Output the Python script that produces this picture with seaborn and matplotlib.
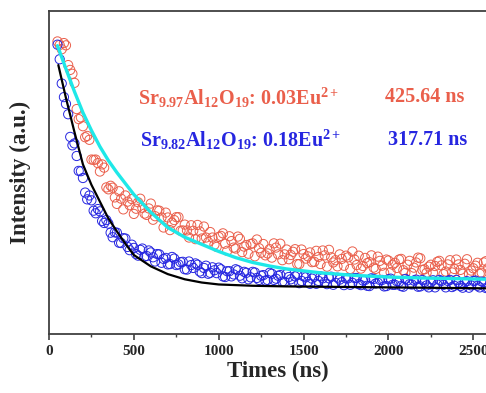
import matplotlib
matplotlib.use("Agg")
import matplotlib.pyplot as plt
import seaborn as sns
import pandas as pd
from matplotlib.ticker import MultipleLocator

# ---------------- data ----------------
times = [50, 75, 100, 125, 150, 175, 200, 225, 250, 275, 300, 325, 350, 375, 400, 425, 450, 475,
         500, 525, 550, 575, 600, 625, 650, 675, 700, 725, 750, 775, 800, 825, 850, 875, 900, 925,
         950, 975, 1000, 1025, 1050, 1075, 1100, 1125, 1150, 1175, 1200, 1225, 1250, 1275, 1300,
         1325, 1350, 1375, 1400, 1425, 1450, 1475, 1500, 1525, 1550, 1575, 1600, 1625, 1650, 1675,
         1700, 1725, 1750, 1775, 1800, 1825, 1850, 1875, 1900, 1925, 1950, 1975, 2000, 2025, 2050,
         2075, 2100, 2125, 2150, 2175, 2200, 2225, 2250, 2275, 2300, 2325, 2350, 2375, 2400, 2425,
         2450, 2475, 2500, 2525, 2550, 2575, 2600]

red_int = [0.905, 0.881, 0.893, 0.817, 0.777, 0.665, 0.643, 0.613, 0.540, 0.540, 0.503, 0.515,
           0.448, 0.453, 0.403, 0.419, 0.429, 0.399, 0.372, 0.408, 0.391, 0.369, 0.404, 0.365,
           0.382, 0.330, 0.361, 0.345, 0.362, 0.320, 0.339, 0.299, 0.320, 0.338, 0.296, 0.299,
           0.316, 0.277, 0.301, 0.312, 0.258, 0.288, 0.265, 0.295, 0.271, 0.249, 0.281, 0.293,
           0.252, 0.244, 0.263, 0.281, 0.247, 0.229, 0.262, 0.245, 0.263, 0.217, 0.248, 0.241,
           0.223, 0.258, 0.217, 0.244, 0.261, 0.222, 0.210, 0.233, 0.243, 0.202, 0.231, 0.243,
           0.211, 0.220, 0.244, 0.202, 0.227, 0.190, 0.228, 0.215, 0.205, 0.233, 0.190, 0.227,
           0.206, 0.237, 0.199, 0.190, 0.215, 0.211, 0.227, 0.186, 0.216, 0.191, 0.231, 0.199,
           0.218, 0.186, 0.204, 0.221, 0.190, 0.226, 0.194]

blue_int = [0.895, 0.775, 0.712, 0.610, 0.590, 0.505, 0.483, 0.417, 0.414, 0.374, 0.380, 0.344,
            0.342, 0.300, 0.314, 0.282, 0.296, 0.260, 0.267, 0.243, 0.265, 0.242, 0.253, 0.225,
            0.247, 0.233, 0.216, 0.239, 0.214, 0.223, 0.201, 0.225, 0.205, 0.215, 0.189, 0.212,
            0.190, 0.198, 0.206, 0.179, 0.195, 0.179, 0.201, 0.181, 0.193, 0.170, 0.193, 0.174,
            0.181, 0.166, 0.190, 0.168, 0.181, 0.163, 0.186, 0.170, 0.179, 0.158, 0.179, 0.162,
            0.172, 0.156, 0.179, 0.161, 0.173, 0.153, 0.175, 0.161, 0.173, 0.153, 0.174, 0.155,
            0.166, 0.150, 0.173, 0.157, 0.168, 0.148, 0.170, 0.153, 0.164, 0.149, 0.171, 0.155,
            0.166, 0.147, 0.168, 0.151, 0.161, 0.145, 0.168, 0.153, 0.165, 0.146, 0.168, 0.149,
            0.162, 0.144, 0.165, 0.150, 0.163, 0.143, 0.159]

# second (interleaved) set of recorded points
times_b = [63, 88, 113, 138, 163, 188, 213, 238, 263, 288, 313, 338,
           363, 388, 413, 438, 463, 488, 513, 538, 563, 588, 613, 638,
           663, 688, 713, 738, 763, 788, 813, 838, 863, 888, 913, 938,
           963, 988, 1013, 1038, 1063, 1088, 1113, 1138, 1163, 1188, 1213, 1238,
           1263, 1288, 1313, 1338, 1363, 1388, 1413, 1438, 1463, 1488, 1513, 1538,
           1563, 1588, 1613, 1638, 1663, 1688, 1713, 1738, 1763, 1788, 1813, 1838,
           1863, 1888, 1913, 1938, 1963, 1988, 2013, 2038, 2063, 2088, 2113, 2138,
           2163, 2188, 2213, 2238, 2263, 2288, 2313, 2338, 2363, 2388, 2413, 2438,
           2463, 2488, 2513, 2538, 2563, 2588]

red_int_b = [0.894, 0.900, 0.832, 0.805, 0.696, 0.670, 0.609, 0.601, 0.539, 0.529, 0.525, 0.454,
             0.459, 0.423, 0.442, 0.386, 0.410, 0.418, 0.388, 0.419, 0.373, 0.389, 0.354, 0.383,
             0.361, 0.376, 0.322, 0.353, 0.362, 0.321, 0.321, 0.337, 0.294, 0.318, 0.333, 0.285,
             0.299, 0.270, 0.304, 0.280, 0.303, 0.268, 0.302, 0.254, 0.276, 0.279, 0.241, 0.266,
             0.279, 0.250, 0.237, 0.268, 0.280, 0.247, 0.232, 0.255, 0.217, 0.262, 0.234, 0.253,
             0.224, 0.239, 0.259, 0.209, 0.238, 0.229, 0.247, 0.212, 0.238, 0.256, 0.214, 0.203,
             0.236, 0.223, 0.206, 0.240, 0.212, 0.231, 0.192, 0.221, 0.231, 0.198, 0.215, 0.189,
             0.222, 0.235, 0.201, 0.209, 0.190, 0.224, 0.213, 0.194, 0.229, 0.202, 0.216, 0.187,
             0.232, 0.197, 0.212, 0.187, 0.222, 0.205]

blue_int_b = [0.850, 0.733, 0.680, 0.584, 0.551, 0.504, 0.438, 0.429, 0.382, 0.387, 0.350, 0.353,
              0.314, 0.315, 0.283, 0.297, 0.270, 0.277, 0.248, 0.261, 0.240, 0.259, 0.238, 0.248,
              0.221, 0.236, 0.217, 0.234, 0.216, 0.224, 0.200, 0.214, 0.219, 0.194, 0.205, 0.187,
              0.207, 0.189, 0.201, 0.177, 0.195, 0.185, 0.198, 0.173, 0.190, 0.176, 0.191, 0.168,
              0.183, 0.168, 0.187, 0.172, 0.183, 0.162, 0.177, 0.163, 0.183, 0.165, 0.176, 0.156,
              0.178, 0.165, 0.173, 0.155, 0.178, 0.159, 0.169, 0.152, 0.173, 0.159, 0.174, 0.152,
              0.168, 0.149, 0.171, 0.159, 0.168, 0.149, 0.172, 0.153, 0.162, 0.147, 0.167, 0.154,
              0.169, 0.148, 0.162, 0.145, 0.167, 0.154, 0.165, 0.145, 0.168, 0.150, 0.160, 0.144,
              0.164, 0.151, 0.166, 0.145, 0.161, 0.143]

fit_red_t = [50, 100, 150, 200, 250, 300, 350, 400, 450, 500, 600, 700, 800, 900, 1000, 1100,
             1200, 1300, 1400, 1600, 1800, 2000, 2200, 2400, 2600]
fit_red_y = [0.892, 0.820, 0.750, 0.685, 0.630, 0.580, 0.537, 0.500, 0.466, 0.432, 0.377, 0.330,
             0.300, 0.278, 0.256, 0.237, 0.222, 0.211, 0.202, 0.190, 0.182, 0.177, 0.174, 0.172,
             0.170]

fit_blue_t = [55, 100, 150, 200, 250, 300, 350, 400, 450, 500, 600, 700, 800, 900, 1000, 1200,
              1400, 1600, 2000, 2600]
fit_blue_y = [0.832, 0.730, 0.625, 0.525, 0.462, 0.410, 0.358, 0.318, 0.280, 0.245, 0.210, 0.186,
              0.170, 0.160, 0.154, 0.150, 0.148, 0.147, 0.145, 0.142]

x_ticks = [0, 500, 1000, 1500, 2000, 2500]

red_label = r"Sr$_{\mathbf{9.97}}$Al$_{\mathbf{12}}$O$_{\mathbf{19}}$: 0.03Eu$^{\mathbf{2+}}$"
blue_label = r"Sr$_{\mathbf{9.82}}$Al$_{\mathbf{12}}$O$_{\mathbf{19}}$: 0.18Eu$^{\mathbf{2+}}$"
red_tau = "425.64 ns"
blue_tau = "317.71 ns"

RED = "#ea5f4b"
BLUE = "#2626e0"
CYAN = "#1ee8e8"

# ---------------- figure ----------------
sns.set_theme(style="white")
plt.rcParams["font.family"] = ["Liberation Serif", "DejaVu Serif"]
plt.rcParams["mathtext.fontset"] = "custom"
plt.rcParams["mathtext.rm"] = "Liberation Serif:bold"
plt.rcParams["mathtext.bf"] = "Liberation Serif:bold"
plt.rcParams["mathtext.it"] = "Liberation Serif:bold"

W, H = 486, 393
fig = plt.figure(figsize=(W / 100, H / 100), dpi=100)
xmax = 2700
px_per_ns = 84.85 / 500
left_px, bottom_px, top_px = 49, 334.3, 10.7
ax = fig.add_axes([left_px / W, (H - bottom_px) / H,
                   xmax * px_per_ns / W, (bottom_px - top_px) / H])

df_red = pd.DataFrame({"t": times + times_b, "I": red_int + red_int_b})
df_blue = pd.DataFrame({"t": times + times_b, "I": blue_int + blue_int_b})
df_fr = pd.DataFrame({"t": fit_red_t, "I": fit_red_y})
df_fb = pd.DataFrame({"t": fit_blue_t, "I": fit_blue_y})

sns.scatterplot(data=df_red, x="t", y="I", ax=ax, marker="o", s=44,
                facecolor="none", edgecolor=RED, linewidth=0.7, zorder=2)
sns.scatterplot(data=df_blue, x="t", y="I", ax=ax, marker="o", s=44,
                facecolor="none", edgecolor=BLUE, linewidth=0.7, zorder=3)
sns.lineplot(data=df_fr, x="t", y="I", ax=ax, color=CYAN, linewidth=2.4, zorder=4)
sns.lineplot(data=df_fb, x="t", y="I", ax=ax, color="black", linewidth=1.6, zorder=5)

ax.set_xlim(0, xmax)
ax.set_ylim(0, 1)
ax.set_xticks(x_ticks)
ax.set_xticklabels([str(v) for v in x_ticks], fontsize=11, fontweight="bold")
ax.xaxis.set_minor_locator(MultipleLocator(250))
ax.set_yticks([])
ax.tick_params(axis="x", which="major", direction="out", length=4, width=1.2,
               color="#404040", bottom=True, pad=4)
ax.tick_params(axis="x", which="minor", direction="out", length=2.5, width=1.0,
               color="#404040", bottom=True)
for sp in ax.spines.values():
    sp.set_color("#404040")
    sp.set_linewidth(1.3)

ax.set_xlabel("Times (ns)", fontsize=16.5, fontweight="bold", labelpad=2)
ax.set_ylabel("")
fig.text(20 / W, 1 - 172 / H, "Intensity (a.u.)", rotation=90, fontsize=16.5,
         fontweight="bold", ha="center", va="center")

fig.text(138 / W, 1 - 98 / H, red_label, color=RED, fontsize=14.5, fontweight="bold",
         ha="left", va="center")
fig.text(385 / W, 1 - 97 / H, red_tau, color=RED, fontsize=14.5, fontweight="bold",
         ha="left", va="center")
fig.text(140 / W, 1 - 140 / H, blue_label, color=BLUE, fontsize=14.5, fontweight="bold",
         ha="left", va="center")
fig.text(388 / W, 1 - 140 / H, blue_tau, color=BLUE, fontsize=14.5, fontweight="bold",
         ha="left", va="center")

fig.savefig("out.png", dpi=100)
